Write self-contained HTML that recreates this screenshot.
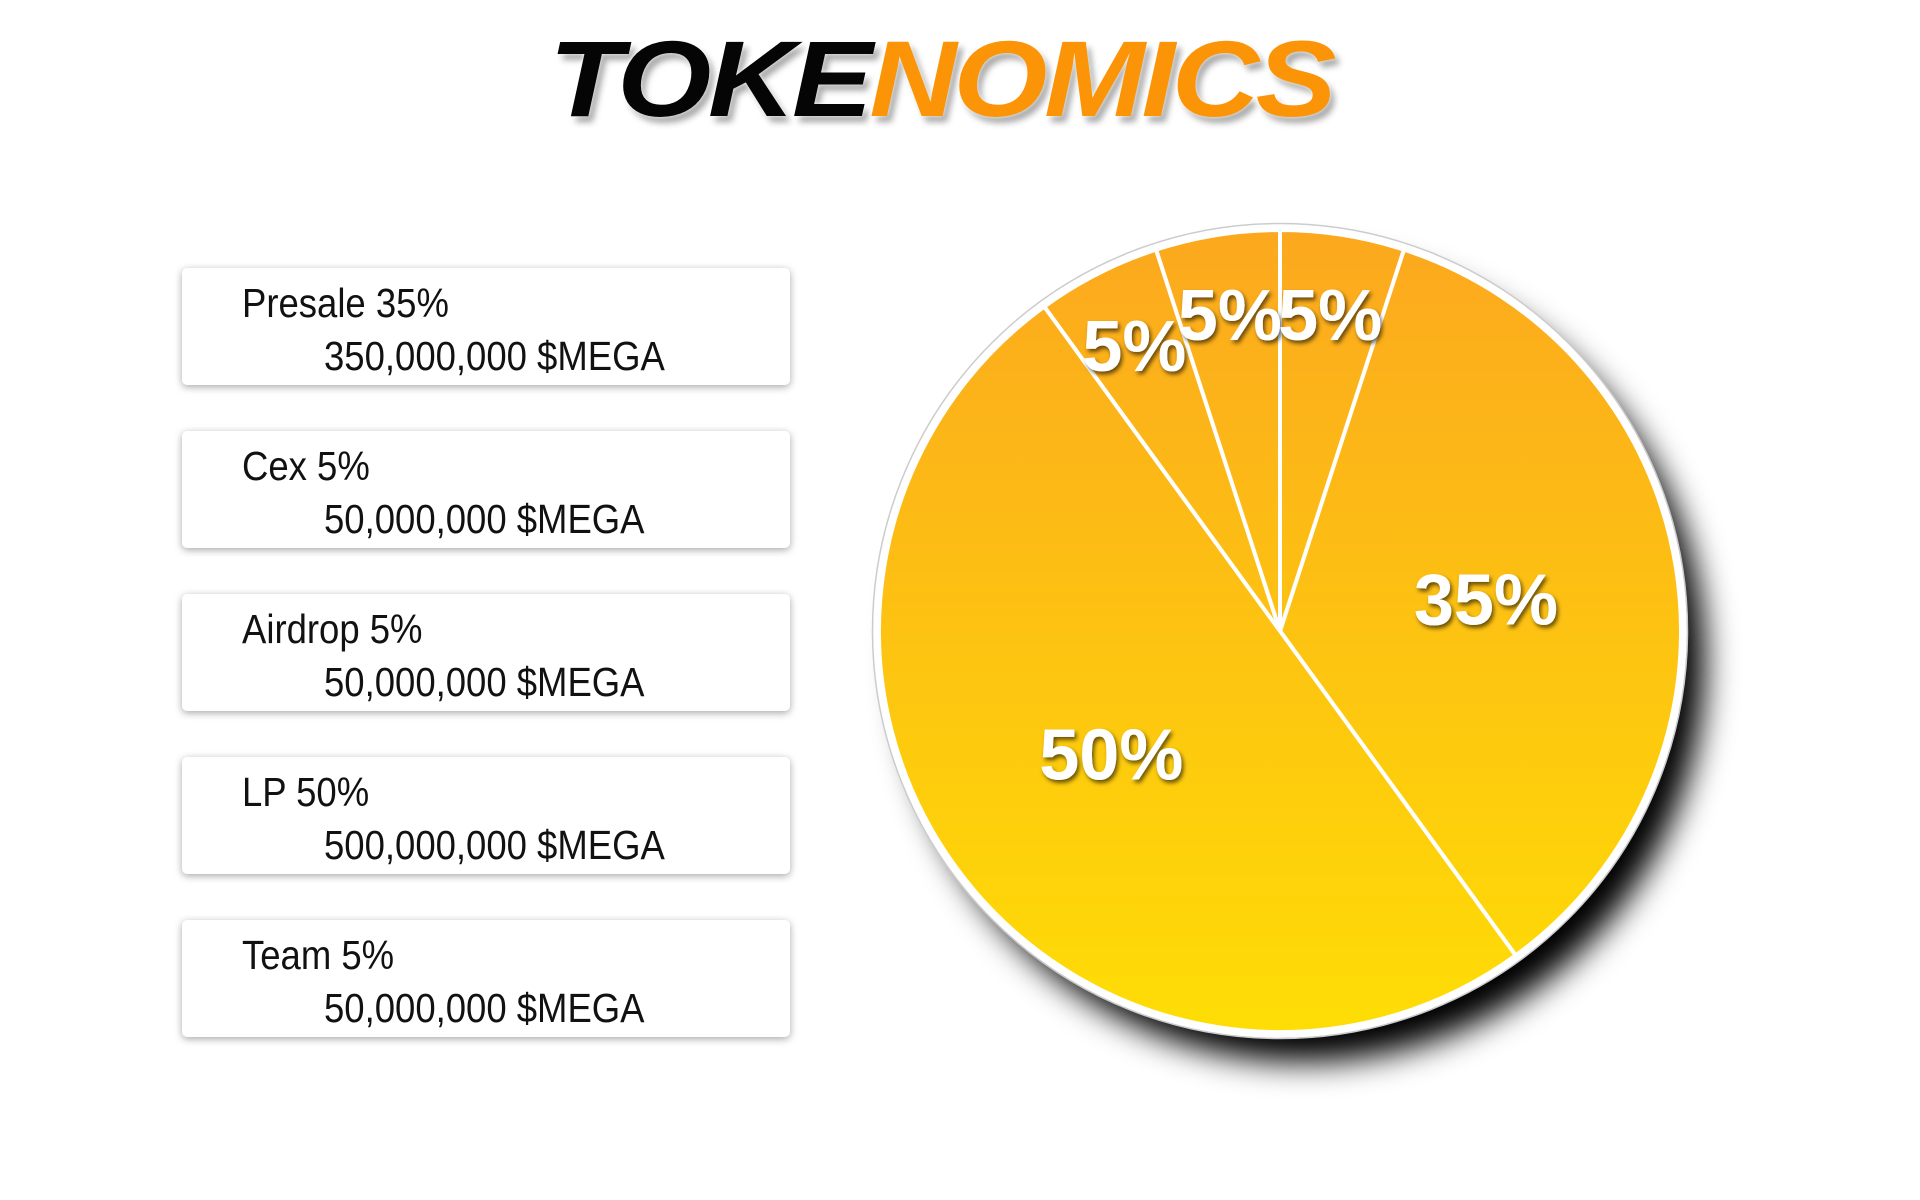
<!DOCTYPE html>
<html><head><meta charset="utf-8">
<style>
html,body{margin:0;padding:0;background:#fff;width:1920px;height:1200px;overflow:hidden;font-family:"Liberation Sans",sans-serif}
.title{position:absolute;left:-19px;top:16px;width:1920px;text-align:center;font-weight:900;font-style:italic;font-size:108px;letter-spacing:-3px;transform:scaleX(1.12);text-shadow:0 0 4px #fff,4px 6px 6px rgba(0,0,0,.35)}
.title .a{color:#050505}.title .b{color:#fb9407}
.box{position:absolute;left:182px;width:616px;height:117px;background:#fff;border-radius:5px;box-shadow:0 2px 8px rgba(0,0,0,.35)}
.box .l1,.box .l2{position:absolute;font-size:41px;color:#111;transform:scaleX(.89);transform-origin:left top;white-space:nowrap}
.box .l1{left:60px;top:12px}.box .l2{left:142px;top:65px}
</style></head><body>
<div class="title"><span class="a">TOKE</span><span class="b">NOMICS</span></div>
<div class="box" style="top:268px;width:608px"><div class="l1">Presale 35%</div><div class="l2">350,000,000 $MEGA</div></div>
<div class="box" style="top:431px;width:608px"><div class="l1">Cex 5%</div><div class="l2">50,000,000 $MEGA</div></div>
<div class="box" style="top:594px;width:608px"><div class="l1">Airdrop 5%</div><div class="l2">50,000,000 $MEGA</div></div>
<div class="box" style="top:757px;width:608px"><div class="l1">LP 50%</div><div class="l2">500,000,000 $MEGA</div></div>
<div class="box" style="top:920px;width:608px"><div class="l1">Team 5%</div><div class="l2">50,000,000 $MEGA</div></div>
<svg id="pie" width="1920" height="1200" style="position:absolute;left:0;top:0">
<defs>
<linearGradient id="g" gradientUnits="userSpaceOnUse" x1="0" y1="230" x2="0" y2="1032"><stop offset="0" stop-color="#fca81e"/><stop offset="1" stop-color="#fedd05"/></linearGradient>
<filter id="sh" x="-30%" y="-30%" width="160%" height="160%"><feGaussianBlur stdDeviation="16"/></filter>
<filter id="ts"><feDropShadow dx="2" dy="3" stdDeviation="2" flood-color="#000" flood-opacity=".6"/></filter>
</defs>
<g id="slices"></g>
</svg>
<script>
const categories=["Presale","LP","Team","Airdrop","Cex"];
const values=[35,50,5,5,5];
const labels=["35%","50%","5%","5%","5%"];
const cx=1280,cy=631,r=401,startDeg=18;
const g=document.getElementById('slices');
const NS="http://www.w3.org/2000/svg";
function pt(deg,rad){const a=(deg-90)*Math.PI/180;return [cx+rad*Math.cos(a),cy+rad*Math.sin(a)];}
const shadow=document.createElementNS(NS,'circle');
shadow.setAttribute('cx',cx+24);shadow.setAttribute('cy',cy+30);shadow.setAttribute('r',r);
shadow.setAttribute('fill','#000');shadow.setAttribute('filter','url(#sh)');


g.appendChild(shadow);
const bg=document.createElementNS(NS,'circle');
bg.setAttribute('cx',cx);bg.setAttribute('cy',cy);bg.setAttribute('r',r);
bg.setAttribute('fill','url(#g)');


g.appendChild(bg);
const total=values.reduce((a,b)=>a+b,0);
let ang=startDeg;
values.forEach((v,i)=>{
  const sweep=v/total*360,a0=ang,a1=ang+sweep;
  const p0=pt(a0,r),p1=pt(a1,r);
  const path=document.createElementNS(NS,'path');
  path.setAttribute('d',`M${cx},${cy}L${p0[0]},${p0[1]}A${r},${r} 0 ${sweep>180?1:0} 1 ${p1[0]},${p1[1]}Z`);
  path.setAttribute('fill','url(#g)');path.setAttribute('stroke','#fff');path.setAttribute('stroke-width','4');
  
  
  g.appendChild(path);
  ang=a1;
});
const ring=document.createElementNS(NS,'circle');
ring.setAttribute('cx',cx);ring.setAttribute('cy',cy);ring.setAttribute('r',r+3);
ring.setAttribute('fill','none');ring.setAttribute('stroke','#fff');ring.setAttribute('stroke-width','6');


g.appendChild(ring);
const ring2=document.createElementNS(NS,'circle');
ring2.setAttribute('cx',cx);ring2.setAttribute('cy',cy);ring2.setAttribute('r',r+6.5);
ring2.setAttribute('fill','none');ring2.setAttribute('stroke','#ccc');ring2.setAttribute('stroke-width','1.5');


g.appendChild(ring2);
ang=startDeg;
values.forEach((v,i)=>{
  const sweep=v/total*360,mid=ang+sweep/2;
  const p=pt(mid,v>=20?r*0.52:r*0.80);
  const t=document.createElementNS(NS,'text');
  t.setAttribute('x',p[0]);t.setAttribute('y',p[1]+26);
  t.setAttribute('text-anchor','middle');t.setAttribute('font-family','Liberation Sans, sans-serif');
  t.setAttribute('font-weight','bold');t.setAttribute('font-size','72');t.setAttribute('fill','#fff');
  t.setAttribute('filter','url(#ts)');
  
  
  t.textContent=labels[i];
  g.appendChild(t);
  ang+=sweep;
});
</script>
</body></html>
